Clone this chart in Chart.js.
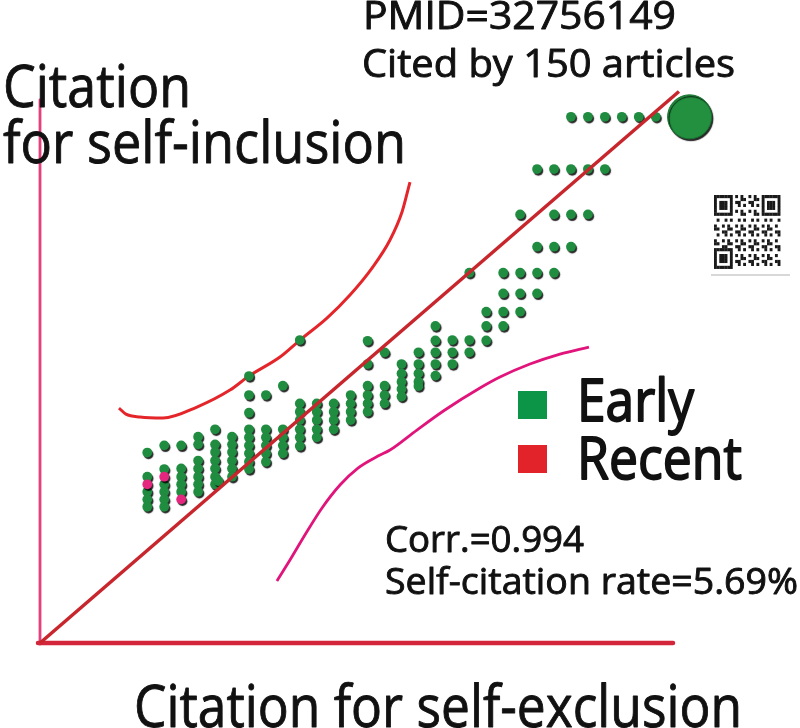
<!DOCTYPE html>
<html>
<head>
<meta charset="utf-8">
<script src="https://cdn.jsdelivr.net/npm/chart.js@4.4.0/dist/chart.umd.min.js"></script>
<style>
  html, body { margin: 0; padding: 0; background: #fff; }
  #wrap { width: 800px; height: 728px; }
</style>
</head>
<body>
<div id="wrap"><canvas id="chart"></canvas></div>
<script>
// 軸の範囲（原点は両軸とも同じ値、対角線は y = x）
const XMIN = 0.67, XMAX = 38.02;
const YMIN = 0.67, YMAX = 37.79;

// 各列の x（self-exclusion）と、その列に並ぶ点の y（self-inclusion）
const columns = [7, 8, 9, 10, 11, 12, 13, 14, 15, 16, 17, 18, 19, 20, 21, 22,
  23, 24, 25, 26, 27, 28, 29, 30, 31, 32, 33, 34, 35, 36, 37];
const earlyY = [
  [13.69, 12.04, 11.01, 10.49, 9.98],
  [14.18, 12.56, 11.52, 11.01, 10.49, 9.98],
  [14.18, 12.60, 12.04, 11.52, 11.01],
  [14.77, 14.25, 13.14, 12.60, 12.04, 11.52, 11.01],
  [15.28, 14.25, 13.73, 13.14, 12.60, 12.04, 11.52],
  [14.77, 14.25, 13.73, 13.14, 12.60, 12.04],
  [18.92, 17.62, 16.41, 15.28, 14.73, 14.18, 13.64, 13.06, 12.56],
  [17.62, 15.28, 14.73, 14.18, 13.64, 13.06],
  [18.26, 15.28, 14.73, 14.18, 13.64],
  [21.38, 17.05, 16.48, 15.91, 15.28, 14.73, 14.14],
  [17.05, 16.48, 15.91, 15.28, 14.73],
  [17.05, 16.48, 15.91, 15.28],
  [17.62, 17.05, 16.48, 15.91],
  [21.33, 19.74, 18.26, 17.62, 17.05, 16.48],
  [20.54, 18.26, 17.62, 17.05],
  [19.74, 19.10, 18.53, 18.03, 17.52],
  [20.54, 19.74, 19.10, 18.53, 18.24],
  [22.34, 21.35, 20.54, 19.74, 18.95],
  [21.38, 20.54, 19.74],
  [25.98, 21.38, 20.54],
  [23.32, 22.34, 21.35],
  [25.98, 24.57, 23.32, 22.34],
  [29.97, 25.98, 24.57, 23.32],
  [33.07, 27.76, 25.98, 24.57],
  [33.07, 29.97, 27.76, 25.98],
  [36.64, 33.07, 29.97, 27.76],
  [36.64, 33.07, 29.97],
  [36.64, 33.07],
  [36.64],
  [36.64],
  [36.64],
];
const extraEarlyX = [11.2];
const extraEarlyY = [11.74];

const recentX = [7, 8, 9];
const recentY = [11.52, 12.04, 10.49];

// 最新（合計）の大きな点
const totalX = [39];
const totalY = [36.64];

// 上側の赤い曲線
const upperX = [5.33, 5.74, 6.57, 7.93, 9.93, 11.88, 13.00, 14.83, 16.01, 17.60, 18.96, 20.26, 21.32, 22.03, 22.50];
const upperY = [16.73, 16.32, 16.12, 16.05, 16.80, 17.96, 18.92, 20.22, 21.38, 22.88, 24.46, 26.30, 28.22, 30.13, 32.18];

// 下側のマゼンタ曲線
const lowerX = [14.65, 15.42, 16.30, 17.31, 18.37, 19.43, 20.61, 21.32, 22.91, 24.56, 26.63, 27.81, 29.58, 31.35, 33.06];
const lowerY = [4.91, 6.34, 8.05, 9.90, 11.47, 12.63, 13.45, 13.86, 15.23, 16.60, 18.10, 18.85, 19.74, 20.42, 20.90];

// y = x の基準線
const refEnds = [0.67, 38.37];

const FONT = '"Open Sans", "Noto Sans", sans-serif';

function toPoints(xs, ys) {
  return xs.map((x, i) => ({ x: x, y: ys[i] }));
}

const earlyPoints = columns.flatMap((x, i) => earlyY[i].map(y => ({ x: x, y: y })))
  .concat(toPoints(extraEarlyX, extraEarlyY));

// 横幅に合わせて文字を描く（少し太らせる）
function fitText(ctx, text, x, y, size, width, stroke) {
  ctx.font = size + 'px ' + FONT;
  const w = ctx.measureText(text).width;
  ctx.save();
  ctx.translate(x, y);
  ctx.scale(width / w, 1);
  ctx.lineWidth = stroke || 0.9;
  ctx.lineJoin = 'round';
  ctx.strokeStyle = ctx.fillStyle;
  ctx.fillText(text, 0, 0);
  ctx.strokeText(text, 0, 0);
  ctx.restore();
}

function drawQr(ctx, x0, y0, n, mw, mh) {
  ctx.fillStyle = '#1a1a1a';
  const finder = (r, c) => {
    const inside = (fr, fc) => r >= fr && r < fr + 7 && c >= fc && c < fc + 7;
    const corners = [[0, 0], [0, n - 7], [n - 7, 0]];
    for (const [fr, fc] of corners) {
      if (inside(fr, fc)) {
        const rr = r - fr, cc = c - fc;
        const ring = rr === 0 || rr === 6 || cc === 0 || cc === 6;
        const core = rr >= 2 && rr <= 4 && cc >= 2 && cc <= 4;
        return ring || core ? 1 : 0;
      }
    }
    return -1;
  };
  for (let r = 0; r < n; r++) {
    for (let c = 0; c < n; c++) {
      let on = finder(r, c);
      if (on === -1) {
        if ((r === 7 || c === 7) && (r < 8 || c < 8)) on = 0;
        else on = ((r * 31 + c * 17 + r * c * 7) % 5) < 2 ? 1 : 0;
      }
      if (on) ctx.fillRect(x0 + c * mw, y0 + r * mh, mw + 0.2, mh + 0.2);
    }
  }
}

const decor = {
  id: 'decor',
  beforeDatasetsDraw(chart) {
    const ctx = chart.ctx;
    const xs = chart.scales.x, ys = chart.scales.y;
    const ox = xs.getPixelForValue(XMIN), oy = ys.getPixelForValue(YMIN);
    ctx.save();
    ctx.lineCap = 'round';
    // 縦軸
    ctx.strokeStyle = '#e5407e';
    ctx.lineWidth = 2.8;
    ctx.beginPath();
    ctx.moveTo(ox, ys.getPixelForValue(YMAX));
    ctx.lineTo(ox, oy + 1);
    ctx.stroke();
    // 横軸
    ctx.strokeStyle = '#d3263b';
    ctx.lineWidth = 4.5;
    ctx.beginPath();
    ctx.moveTo(ox - 2, oy);
    ctx.lineTo(xs.getPixelForValue(XMAX), oy);
    ctx.stroke();
    ctx.restore();
  },
  beforeDatasetDraw(chart, args) {
    if (!chart.data.datasets[args.index].shadow) return;
    const ctx = chart.ctx;
    ctx.save();
    ctx.shadowColor = 'rgba(0,0,0,0.85)';
    ctx.shadowOffsetX = 1.3;
    ctx.shadowOffsetY = 1.8;
    ctx.shadowBlur = 1;
  },
  afterDatasetDraw(chart, args) {
    if (!chart.data.datasets[args.index].shadow) return;
    chart.ctx.restore();
  },
  afterDraw(chart) {
    const ctx = chart.ctx;
    ctx.save();
    ctx.fillStyle = '#111';
    ctx.textBaseline = 'alphabetic';
    fitText(ctx, 'PMID=32756149', 363, 29, 38, 313);
    fitText(ctx, 'Cited by 150 articles', 362, 77, 38, 373);
    fitText(ctx, 'Citation', 3, 107, 58, 188);
    fitText(ctx, 'for self-inclusion', 3, 163, 58, 403);
    fitText(ctx, 'Citation for self-exclusion', 134, 727, 58, 608);
    fitText(ctx, 'Corr.=0.994', 385, 552, 36, 199);
    fitText(ctx, 'Self-citation rate=5.69%', 385, 594, 36, 413);

    // 凡例
    ctx.fillStyle = '#0c9447';
    ctx.fillRect(518, 391, 29, 28);
    ctx.fillStyle = '#e3232a';
    ctx.fillRect(518, 445, 29, 28);
    ctx.fillStyle = '#111';
    fitText(ctx, 'Early', 577, 421, 58, 117, 1.8);
    fitText(ctx, 'Recent', 577, 479, 58, 165, 1.8);

    // QR コード（飾り）
    drawQr(ctx, 714, 195, 25, 2.65, 2.95);
    ctx.strokeStyle = '#d8d8d8';
    ctx.lineWidth = 2;
    ctx.beginPath();
    ctx.moveTo(711, 275);
    ctx.lineTo(790, 275);
    ctx.stroke();
    ctx.restore();
  },
};

new Chart(document.getElementById('chart'), {
  type: 'scatter',
  data: {
    datasets: [
      {
        type: 'line',
        label: 'y = x',
        data: toPoints(refEnds, refEnds),
        borderColor: '#c8262d',
        borderWidth: 3.5,
        pointRadius: 0,
        clip: false,
      },
      {
        label: 'Recent',
        data: toPoints(recentX, recentY),
        backgroundColor: '#e5267f',
        borderWidth: 0,
        pointRadius: 4.9,
        shadow: true,
        clip: false,
      },
      {
        label: 'Early',
        data: earlyPoints,
        backgroundColor: '#1f8c40',
        borderWidth: 0,
        pointRadius: 4.9,
        shadow: true,
        clip: false,
      },
      {
        label: 'Total',
        data: toPoints(totalX, totalY),
        backgroundColor: '#22903f',
        borderColor: '#16702e',
        borderWidth: 1,
        pointRadius: 22,
        shadow: true,
        clip: false,
      },
      {
        type: 'line',
        label: 'Upper',
        data: toPoints(upperX, upperY),
        borderColor: '#e4262b',
        borderWidth: 3,
        pointRadius: 0,
        cubicInterpolationMode: 'monotone',
        clip: false,
      },
      {
        type: 'line',
        label: 'Lower',
        data: toPoints(lowerX, lowerY),
        borderColor: '#e1147c',
        borderWidth: 2.8,
        pointRadius: 0,
        cubicInterpolationMode: 'monotone',
        clip: false,
      },
    ],
  },
  options: {
    responsive: true,
    maintainAspectRatio: false,
    animation: false,
    layout: { padding: { left: 40, right: 127, top: 100, bottom: 85 } },
    scales: {
      x: { type: 'linear', min: XMIN, max: XMAX, display: false },
      y: { type: 'linear', min: YMIN, max: YMAX, display: false },
    },
    plugins: {
      legend: { display: false },
      tooltip: { enabled: false },
    },
  },
  plugins: [decor],
});
</script>
</body>
</html>
